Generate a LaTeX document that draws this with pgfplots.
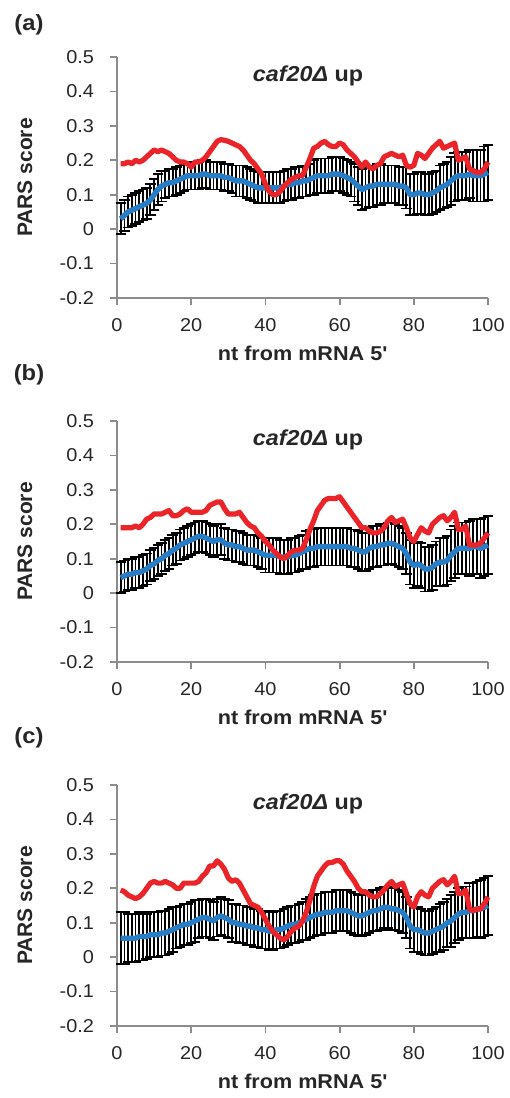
\documentclass[border=0pt]{standalone}
\usepackage{fontspec}
\setmainfont{Liberation Sans}
\newfontfamily\tickf[FakeStretch=1.07]{Liberation Sans}
\newfontfamily\labf[FakeStretch=1.08]{Liberation Sans}
\usepackage{pgfplots}
\usepackage{pgfplotstable}
\pgfplotsset{compat=1.18}

\definecolor{parsred}{RGB}{234,36,40}
\definecolor{parsblue}{RGB}{40,126,198}
\definecolor{axgray}{RGB}{140,140,140}

% x  red  blue  err
\pgfplotstableread{
x r b e
1 .19 .03 .045
2 .19 .04 .045
3 .195 .05 .045
4 .19 .055 .045
5 .20 .06 .045
6 .195 .065 .045
7 .20 .07 .045
8 .21 .075 .045
9 .22 .085 .045
10 .23 .10 .045
11 .225 .115 .045
12 .23 .125 .045
13 .225 .13 .04
14 .22 .135 .04
15 .21 .135 .04
16 .20 .14 .04
17 .195 .145 .04
18 .195 .15 .04
19 .19 .155 .04
20 .18 .155 .04
21 .195 .155 .04
22 .195 .155 .04
23 .20 .16 .04
24 .21 .16 .04
25 .225 .155 .04
26 .24 .155 .04
27 .255 .155 .04
28 .26 .155 .04
29 .258 .15 .04
30 .255 .15 .04
31 .25 .145 .04
32 .245 .14 .045
33 .24 .14 .045
34 .23 .14 .045
35 .215 .135 .045
36 .20 .13 .045
37 .19 .125 .045
38 .175 .12 .045
39 .16 .12 .045
40 .13 .12 .045
41 .11 .12 .045
42 .10 .12 .045
43 .10 .12 .045
44 .11 .12 .045
45 .125 .125 .045
46 .135 .13 .045
47 .145 .13 .045
48 .15 .135 .045
49 .155 .135 .045
50 .155 .14 .045
51 .18 .14 .045
52 .205 .145 .045
53 .235 .15 .05
54 .24 .155 .05
55 .25 .155 .05
56 .255 .155 .05
57 .245 .155 .05
58 .24 .16 .05
59 .24 .16 .05
60 .25 .16 .05
61 .245 .155 .05
62 .23 .15 .05
63 .22 .145 .05
64 .21 .135 .055
65 .195 .125 .055
66 .18 .115 .06
67 .195 .12 .06
68 .18 .125 .06
69 .175 .125 .06
70 .185 .13 .06
71 .19 .13 .06
72 .21 .13 .055
73 .215 .13 .055
74 .22 .13 .055
75 .215 .13 .055
76 .21 .125 .055
77 .215 .125 .055
78 .185 .12 .06
79 .18 .10 .06
80 .185 .10 .06
81 .22 .105 .06
82 .215 .105 .06
83 .205 .10 .06
84 .22 .10 .06
85 .235 .105 .06
86 .245 .11 .06
87 .255 .12 .065
88 .235 .125 .065
89 .24 .13 .065
90 .245 .14 .07
91 .25 .15 .07
92 .20 .155 .07
93 .205 .155 .07
94 .21 .155 .07
95 .175 .16 .07
96 .17 .155 .075
97 .165 .155 .075
98 .165 .155 .075
99 .175 .16 .08
100 .195 .165 .08
}\dataA

\pgfplotstableread{
x r b e
1 .19 .045 .045
2 .19 .05 .045
3 .19 .055 .045
4 .19 .055 .045
5 .195 .06 .045
6 .19 .06 .045
7 .20 .065 .045
8 .215 .07 .045
9 .22 .08 .045
10 .23 .085 .045
11 .23 .095 .045
12 .23 .10 .045
13 .235 .11 .045
14 .24 .115 .045
15 .225 .125 .045
16 .225 .13 .045
17 .23 .14 .045
18 .24 .145 .045
19 .245 .15 .045
20 .235 .155 .045
21 .235 .16 .045
22 .235 .165 .045
23 .235 .165 .045
24 .24 .16 .045
25 .255 .155 .045
26 .26 .15 .045
27 .265 .155 .045
28 .265 .155 .045
29 .245 .145 .045
30 .23 .14 .045
31 .23 .14 .045
32 .23 .135 .045
33 .235 .135 .045
34 .22 .13 .045
35 .205 .125 .045
36 .195 .125 .045
37 .19 .125 .045
38 .175 .12 .045
39 .165 .115 .045
40 .15 .11 .05
41 .14 .11 .05
42 .125 .11 .05
43 .115 .11 .05
44 .105 .105 .05
45 .10 .105 .05
46 .11 .105 .05
47 .12 .11 .05
48 .125 .11 .05
49 .125 .115 .05
50 .13 .12 .05
51 .155 .125 .055
52 .185 .13 .055
53 .21 .13 .055
54 .24 .135 .055
55 .255 .135 .055
56 .27 .135 .055
57 .275 .135 .055
58 .275 .135 .055
59 .275 .135 .055
60 .28 .135 .055
61 .265 .135 .055
62 .25 .135 .055
63 .235 .13 .055
64 .22 .13 .055
65 .205 .125 .055
66 .19 .12 .055
67 .19 .12 .055
68 .18 .13 .06
69 .175 .135 .06
70 .175 .135 .06
71 .18 .14 .06
72 .19 .14 .06
73 .21 .145 .06
74 .22 .145 .06
75 .205 .14 .06
76 .21 .135 .06
77 .215 .13 .06
78 .19 .115 .06
79 .16 .09 .065
80 .15 .08 .065
81 .17 .085 .065
82 .19 .08 .065
83 .18 .07 .065
84 .175 .07 .065
85 .20 .075 .065
86 .21 .085 .065
87 .22 .09 .07
88 .225 .09 .07
89 .21 .095 .07
90 .22 .11 .075
91 .235 .12 .075
92 .185 .13 .075
93 .185 .13 .075
94 .195 .13 .075
95 .14 .13 .08
96 .14 .135 .08
97 .14 .135 .08
98 .145 .13 .085
99 .16 .135 .085
100 .175 .14 .085
}\dataB

\pgfplotstableread{
x r b e
1 .195 .055 .075
2 .19 .055 .075
3 .18 .055 .07
4 .175 .055 .07
5 .17 .055 .07
6 .175 .06 .07
7 .185 .06 .07
8 .20 .06 .065
9 .215 .065 .065
10 .22 .065 .065
11 .215 .065 .065
12 .215 .07 .065
13 .22 .07 .065
14 .215 .075 .065
15 .21 .08 .065
16 .20 .085 .06
17 .20 .09 .06
18 .215 .095 .06
19 .215 .095 .06
20 .215 .10 .06
21 .215 .105 .06
22 .22 .11 .055
23 .235 .115 .055
24 .245 .115 .055
25 .265 .11 .055
26 .265 .105 .055
27 .28 .115 .055
28 .27 .12 .055
29 .255 .115 .055
30 .23 .11 .055
31 .22 .10 .055
32 .225 .10 .055
33 .215 .095 .055
34 .195 .095 .055
35 .175 .09 .055
36 .155 .09 .055
37 .15 .085 .055
38 .145 .085 .055
39 .13 .08 .055
40 .11 .08 .055
41 .09 .075 .055
42 .075 .075 .055
43 .065 .08 .055
44 .055 .08 .055
45 .05 .085 .055
46 .06 .09 .055
47 .075 .095 .055
48 .085 .095 .055
49 .09 .10 .055
50 .105 .105 .055
51 .13 .11 .06
52 .165 .115 .06
53 .205 .12 .06
54 .235 .125 .06
55 .25 .125 .06
56 .265 .13 .06
57 .275 .13 .06
58 .275 .13 .06
59 .28 .135 .06
60 .28 .135 .06
61 .27 .135 .06
62 .25 .135 .06
63 .235 .13 .06
64 .22 .125 .06
65 .20 .12 .06
66 .19 .12 .06
67 .19 .125 .06
68 .18 .13 .06
69 .175 .135 .06
70 .175 .135 .06
71 .185 .14 .06
72 .195 .145 .06
73 .21 .145 .06
74 .22 .14 .06
75 .205 .14 .06
76 .21 .135 .06
77 .215 .13 .06
78 .185 .115 .06
79 .155 .09 .065
80 .145 .08 .065
81 .175 .08 .065
82 .19 .075 .065
83 .18 .07 .065
84 .175 .07 .065
85 .20 .075 .065
86 .21 .08 .065
87 .22 .085 .07
88 .225 .09 .07
89 .21 .10 .07
90 .22 .105 .075
91 .235 .115 .075
92 .185 .125 .075
93 .185 .13 .075
94 .195 .13 .075
95 .14 .135 .08
96 .135 .135 .08
97 .14 .14 .08
98 .14 .14 .085
99 .155 .145 .085
100 .175 .15 .085
}\dataC

\pgfplotsset{
  panel/.style={
    width=185.5pt, height=120.5pt, scale only axis,
    xmin=0, xmax=100, ymin=-0.2, ymax=0.5,
    xtick={0,20,40,60,80,100},
    ytick={-0.2,-0.1,0,0.1,0.2,0.3,0.4,0.5},
    axis lines=left, axis line style={-, axgray, line width=0.9pt},
    tick align=outside, major tick length=3.5pt,
    tick style={axgray, line width=0.9pt},
    /pgf/number format/assume math mode=true,
    tick label style={font=\tickf\fontsize{9.3}{11}\selectfont, text=black!85},
    yticklabel style={xshift=-4.5pt},
    xticklabel style={yshift=-3pt},
    ylabel={PARS score},
    ylabel style={font=\bfseries\fontsize{10.5}{12}\selectfont, text=black!85,
      at={(axis description cs:-0.248,0.5)}, anchor=center},
    xlabel={nt from mRNA 5\textquotesingle},
    xlabel style={font=\labf\bfseries\fontsize{10}{12}\selectfont, text=black!85,
      at={(axis description cs:0.5,-0.228)}, anchor=center},
    clip=false,
  },
}

\newcommand{\panelplots}[1]{%
  \addplot[draw=none, forget plot, mark=none,
    error bars/.cd, y dir=both, y explicit,
    error mark options={black, line width=0.9pt, mark size=2.6pt, rotate=90},
    error bar style={black, line width=0.9pt}]
    table[x=x, y=b, y error=e] {#1};
  \addplot[parsblue, line width=2.7pt, mark=none, line join=round] table[x=x, y=b] {#1};
  \addplot[parsred, line width=2.6pt, mark=none, line join=round] table[x=x, y=r] {#1};
  \node[font=\labf\fontsize{10.8}{13}\selectfont\bfseries, text=black!85] at (axis description cs:0.515,0.921)
    {\textit{caf20Δ}\hspace{0.3em}up};
}

\begin{document}
\begin{tikzpicture}
\useasboundingbox (0,0) rectangle (254.5pt,549pt);
\node[font=\labf\bfseries\fontsize{11}{13}\selectfont, text=black!85] at (14.5pt,536.5pt) {(a)};
\node[font=\labf\bfseries\fontsize{11}{13}\selectfont, text=black!85] at (14.5pt,361.5pt) {(b)};
\node[font=\labf\bfseries\fontsize{11}{13}\selectfont, text=black!85] at (14.5pt,180pt) {(c)};

\begin{axis}[panel, at={(58.5pt,400pt)}, anchor=south west]
\panelplots{\dataA}
\end{axis}

\begin{axis}[panel, at={(58.5pt,218pt)}, anchor=south west]
\panelplots{\dataB}
\end{axis}

\begin{axis}[panel, at={(58.5pt,36pt)}, anchor=south west]
\panelplots{\dataC}
\end{axis}
\end{tikzpicture}
\end{document}
